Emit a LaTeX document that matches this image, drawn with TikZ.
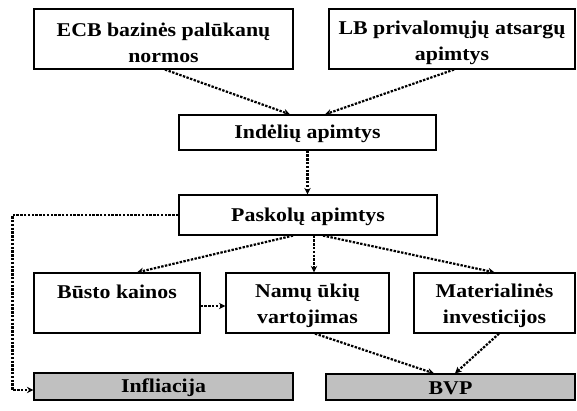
\documentclass[tikz,border=0pt]{standalone}
\usepackage{fontspec}
\setmainfont{Liberation Serif}[FakeStretch=1.12]
\usetikzlibrary{arrows.meta}
\definecolor{outgray}{HTML}{C0C0C0}
\tikzset{
  box/.style={draw=black, line width=1.2pt, fill=white, inner sep=0pt},
  outbox/.style={box, fill=outgray},
  lbl/.style={align=center, inner sep=0pt,
    font=\bfseries\fontsize{19.5}{25.5}\selectfont},
  flow/.style={line width=2.2pt, dash pattern=on 2.4pt off 1.4pt,
    -{Stealth[length=6.5pt,width=6.5pt]}}
}
\begin{document}
\begin{tikzpicture}[x=1pt,y=-1pt]
  \useasboundingbox (0,0) rectangle (577,411);
  % upper row: policy instruments
  \node[box, minimum width=259, minimum height=60] (ecb) at (163.5,39) {};
  \node[box, minimum width=246, minimum height=60] (lb) at (452,39) {};
  % banking aggregates
  \node[box, minimum width=257, minimum height=35] (ind) at (307.5,132.5) {};
  \node[box, minimum width=258, minimum height=40] (pas) at (308,215) {};
  % transmission channels
  \node[box, minimum width=166, minimum height=60] (bus) at (117,303) {};
  \node[box, minimum width=163, minimum height=60] (nam) at (307.5,303) {};
  \node[box, minimum width=161, minimum height=60] (mat) at (494.5,303) {};
  % final outcomes
  \node[outbox, minimum width=259, minimum height=27] (inf) at (163.5,386.5) {};
  \node[outbox, minimum width=249, minimum height=26] (bvp) at (450.5,387) {};

  % box captions
  \node[lbl] (ecbt) at ([yshift=-4]ecb.center) {ECB bazinės palūkanų\\normos};
  \node[lbl] (lbt) at ([yshift=-4]lb.center) {LB privalomųjų atsargų\\apimtys};
  \node[lbl] (indt) at ([yshift=-1.5]ind.center) {Indėlių apimtys};
  \node[lbl] (past) at ([yshift=-1.5]pas.center) {Paskolų apimtys};
  \node[lbl, anchor=north] (bust) at ([yshift=-12]bus.north) {Būsto kainos};
  \node[lbl] (namt) at ([yshift=-3]nam.center) {Namų ūkių\\vartojimas};
  \node[lbl] (matt) at ([yshift=-3]mat.center) {Materialinės\\investicijos};
  \node[lbl] (inft) at ([yshift=-1.5]inf.center) {Infliacija};
  \node[lbl] (bvpt) at ([yshift=-1.5]bvp.center) {BVP};

  % causal links
  \draw[flow] ([xshift=1.5]ecb.south) -- ([xshift=-17.5]ind.north);
  \draw[flow] ([xshift=2]lb.south) -- ([xshift=17.5]ind.north);
  \draw[flow] (ind.south) -- (ind.south |- pas.north);
  \draw[flow] ([xshift=-15]pas.south) -- ([xshift=20]bus.north);
  \draw[flow] ([xshift=6]pas.south) -- ([xshift=6]pas.south |- nam.north);
  \draw[flow] ([xshift=15]pas.south) -- (mat.north);
  \draw[flow] ([yshift=-3]bus.east) -- ([yshift=-3]nam.west);
  \draw[flow] ([xshift=7.5]nam.south) -- ([xshift=-16.5]bvp.north);
  \draw[flow] ([xshift=4.5]mat.south) -- ([xshift=4.5]bvp.north);
  \draw[flow] (pas.west) -- ++(-166,0) |- ([yshift=-3.5]inf.west);
\end{tikzpicture}
\end{document}
